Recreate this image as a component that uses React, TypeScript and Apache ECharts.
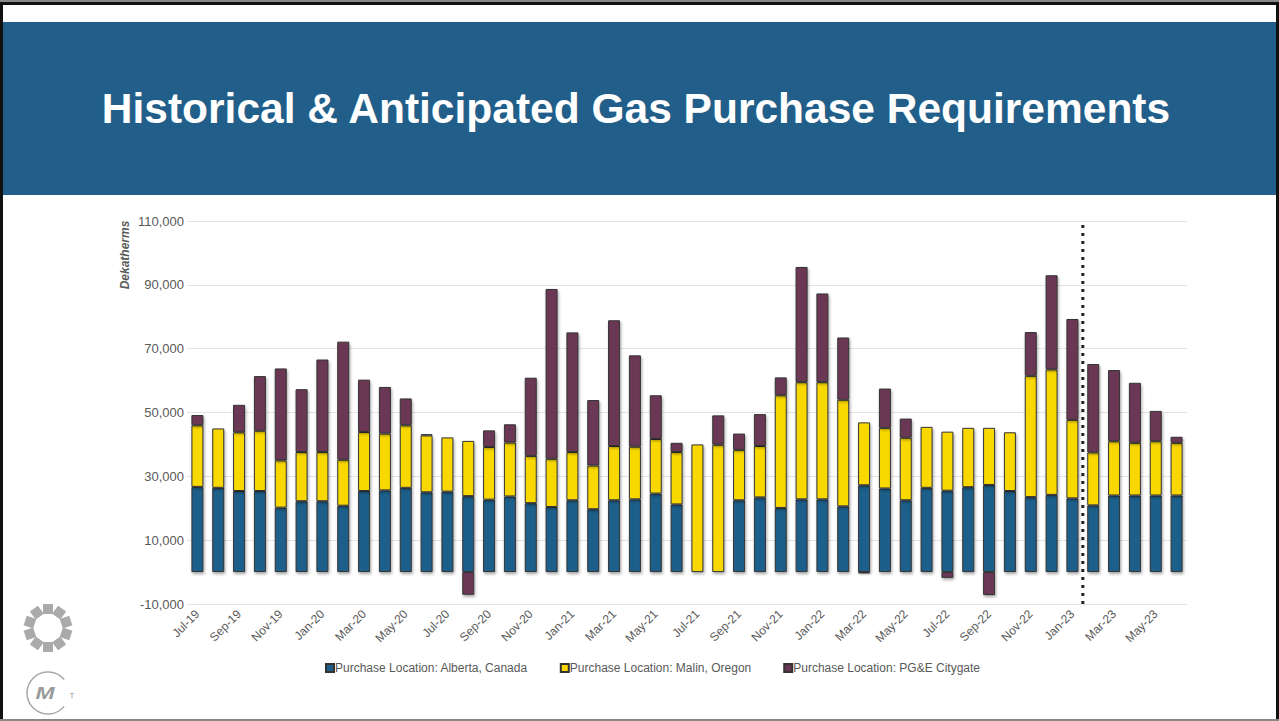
import React, { useEffect, useRef } from "react";
import * as echarts from "echarts";

const months = [
  "Jul-19","Aug-19","Sep-19","Oct-19","Nov-19","Dec-19",
  "Jan-20","Feb-20","Mar-20","Apr-20","May-20","Jun-20",
  "Jul-20","Aug-20","Sep-20","Oct-20","Nov-20","Dec-20",
  "Jan-21","Feb-21","Mar-21","Apr-21","May-21","Jun-21",
  "Jul-21","Aug-21","Sep-21","Oct-21","Nov-21","Dec-21",
  "Jan-22","Feb-22","Mar-22","Apr-22","May-22","Jun-22",
  "Jul-22","Aug-22","Sep-22","Oct-22","Nov-22","Dec-22",
  "Jan-23","Feb-23","Mar-23","Apr-23","May-23","Jun-23",
];

const alberta = [
  26700, 26400, 25400, 25400, 20200, 22200,
  22200, 20800, 25400, 25600, 26400, 25000,
  25200, 23800, 22700, 23700, 21600, 20400,
  22500, 19700, 22500, 22800, 24600, 21200,
  0, 0, 22500, 23400, 20100, 22800,
  22800, 20600, 27200, 26200, 22500, 26400,
  25500, 26600, 27300, 25400, 23500, 24200,
  23100, 20900, 24000, 24000, 24000, 24000,
];

const malin = [
  19300, 18600, 18400, 18900, 14800, 15400,
  15400, 14400, 18500, 17800, 19600, 17800,
  17000, 17300, 16500, 16900, 14800, 15100,
  15100, 13700, 17000, 16500, 17100, 16400,
  40000, 39900, 15800, 16100, 35300, 36700,
  36700, 33400, 19700, 19000, 19600, 19100,
  18500, 18600, 17900, 18400, 38000, 39300,
  24600, 16600, 17000, 16500, 17000, 16500,
];

const citygate = [
  3200, 200, 8600, 17100, 28800, 19700,
  29000, 37000, 16400, 14600, 8400, 400,
  200, -7100, 5200, 5700, 24500, 53200,
  37500, 20500, 39400, 28600, 13700, 2900,
  0, 9200, 5100, 10000, 5600, 36100,
  27800, 19500, -400, 12300, 6000, 0,
  -1800, 0, -7200, 0, 13700, 29500,
  31600, 27700, 22300, 18800, 9500, 1900,
];

const yTicks = { min: -10000, max: 110000, interval: 20000 };
const forecastBoundary = [[43, -10000], [43, 110000]];

const seriesNames = [
  "Purchase Location: Alberta, Canada",
  "Purchase Location: Malin, Oregon",
  "Purchase Location: PG&E Citygate",
];
const seriesColors = ["#1F5E8A", "#F9D800", "#6B3755"];

function gearSquares(cx: number, cy: number) {
  const items: any[] = [];
  const n = 10;
  for (let i = 0; i < n; i++) {
    const a = (i / n) * Math.PI * 2 - Math.PI / 2;
    const r = 19;
    items.push({
      type: "rect",
      x: cx + r * Math.cos(a),
      y: cy + r * Math.sin(a),
      rotation: -a,
      shape: { x: -5, y: -5, width: 10, height: 10 },
      style: { fill: "#aaaaaa" },
      silent: true,
    });
  }
  return items;
}

export default function App() {
  const ref = useRef<HTMLDivElement>(null);

  useEffect(() => {
    document.body.style.margin = "0";
    if (!ref.current) return;
    const chart = echarts.init(ref.current, null, { renderer: "svg" });
    const data = [alberta, malin, citygate];

    const option: any = {
      animation: false,
      backgroundColor: "#ffffff",
      textStyle: { fontFamily: "Liberation Sans, Arial, sans-serif" },
      graphic: [
        { type: "rect", z: -10, shape: { x: 0, y: 0, width: 1279, height: 721 }, style: { fill: "#111" }, silent: true },
        { type: "rect", z: -10, shape: { x: 0, y: 0, width: 1279, height: 2 }, style: { fill: "#888" }, silent: true },
        { type: "rect", z: -9, shape: { x: 3, y: 5, width: 1273, height: 714 }, style: { fill: "#ffffff" }, silent: true },
        { type: "rect", z: -9, shape: { x: 0, y: 719, width: 1279, height: 2 }, style: { fill: "#888" }, silent: true },
        { type: "rect", z: -8, shape: { x: 3, y: 22, width: 1273, height: 173 }, style: { fill: "#215F8A" }, silent: true },
        {
          type: "text", x: 636, y: 108, z: 10, silent: true,
          style: {
            text: "Historical & Anticipated Gas Purchase Requirements",
            fill: "#ffffff",
            font: "bold 42.5px 'Liberation Sans', Arial, sans-serif",
            textAlign: "center",
            textVerticalAlign: "middle",
          },
        },
        {
          type: "text", x: 125, y: 255, rotation: Math.PI / 2, silent: true,
          style: {
            text: "Dekatherms",
            fill: "#595959",
            font: "italic bold 12px 'Liberation Sans', Arial, sans-serif",
            textAlign: "center",
            textVerticalAlign: "middle",
          },
        },
        ...gearSquares(48, 628),
        {
          type: "arc", silent: true,
          shape: { cx: 48, cy: 693, r: 21, startAngle: Math.PI * 0.22, endAngle: Math.PI * 1.78, clockwise: true },
          style: { stroke: "#a8a8a8", lineWidth: 1.5, fill: "none" },
        },
        {
          type: "text", x: 45, y: 693, silent: true, scaleX: 1.35,
          style: { text: "M", fill: "#9a9a9a", font: "italic 900 17px 'Liberation Sans', Arial, sans-serif", textAlign: "center", textVerticalAlign: "middle" },
        },
        {
          type: "text", x: 72, y: 695, silent: true,
          style: { text: "T", fill: "#9a9a9a", font: "8px 'Liberation Sans', Arial, sans-serif", textAlign: "center", textVerticalAlign: "middle" },
        },
      ],
      grid: { left: 187, right: 92, top: 221, bottom: 117, containLabel: false },
      legend: {
        data: seriesNames,
        left: 325,
        top: 662,
        padding: 0,
        icon: "rect",
        itemWidth: 8,
        itemHeight: 8,
        itemGap: 32,
        textStyle: { fontSize: 12, color: "#595959", padding: [0, 0, 0, -4] },
      },
      xAxis: [
        {
          type: "category",
          data: months,
          axisLine: { show: false },
          axisTick: { show: false },
          axisLabel: { interval: 1, rotate: 45, fontSize: 12, color: "#595959", margin: 8 },
          splitLine: { show: false },
        },
        { type: "value", min: 0, max: 48, show: false },
      ],
      yAxis: {
        type: "value",
        min: yTicks.min,
        max: yTicks.max,
        interval: yTicks.interval,
        axisLine: { show: false },
        axisTick: { show: false },
        axisLabel: {
          fontSize: 13,
          color: "#595959",
          margin: 3,
          formatter: (v: number) => v.toLocaleString("en-US"),
        },
        splitLine: { lineStyle: { color: "#e3e3e3", width: 1 } },
      },
      series: [
        ...seriesNames.map((name, i) => ({
          name,
          type: "bar",
          stack: "total",
          barWidth: 12,
          data: data[i],
          itemStyle: {
            color: seriesColors[i],
            borderColor: "#333333",
            borderWidth: 1,
            shadowBlur: 3,
            shadowColor: "rgba(0,0,0,0.35)",
            shadowOffsetX: 1,
            shadowOffsetY: 2,
          },
        })),
        {
          name: "boundary",
          type: "line",
          xAxisIndex: 1,
          data: forecastBoundary,
          symbol: "none",
          silent: true,
          z: 5,
          lineStyle: { color: "#222222", width: 3, type: [3, 5] },
        },
      ],
    };

    chart.setOption(option);
    return () => chart.dispose();
  }, []);

  return (
    <div
      ref={ref}
      style={{ position: "absolute", left: 0, top: 0, width: 1279, height: 721 }}
    />
  );
}
